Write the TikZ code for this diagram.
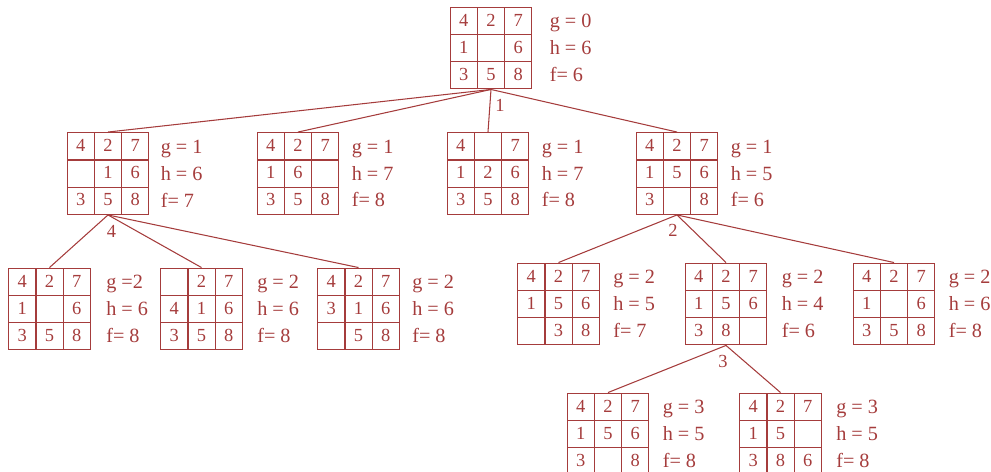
\documentclass[tikz,border=0pt]{standalone}
\usepackage{fontspec}
\setmainfont{Liberation Serif}
\usetikzlibrary{matrix,positioning}
\definecolor{puzred}{RGB}{165,60,60}

\begin{document}
\begin{tikzpicture}[x=0.02cm, y=-0.02cm,
    board/.style={matrix of nodes, nodes in empty cells, inner sep=0pt,
        row sep=-\pgflinewidth, column sep=-\pgflinewidth,
        nodes={draw=puzred, line width=0.5pt, minimum size=0.54cm, inner sep=0pt,
            text height=1.6ex, text depth=0.3ex, anchor=center,
            text=puzred, font=\fontsize{10.5}{12}\selectfont}},
    stats/.style={align=left, inner sep=0pt, text=puzred, font=\fontsize{11.5}{15.3}\selectfont},
    depth/.style={inner sep=0pt, text=puzred, font=\fontsize{10.5}{12}\selectfont},
    link/.style={draw=puzred, line width=0.6pt}
]
\useasboundingbox (0,0) rectangle (991,472);

% root
\matrix[board] (n0) at (491,48) {4 & 2 & 7 \\ 1 & & 6 \\ 3 & 5 & 8 \\};
\node[stats, right=0.34cm of n0] (t0) {g = 0\\h = 6\\f= 6};

% depth 1
\matrix[board] (n1) at (108,173.5) {4 & 2 & 7 \\ & 1 & 6 \\ 3 & 5 & 8 \\};
\matrix[board] (n2) at (298,173.5) {4 & 2 & 7 \\ 1 & 6 & \\ 3 & 5 & 8 \\};
\matrix[board] (n3) at (488,173.5) {4 & & 7 \\ 1 & 2 & 6 \\ 3 & 5 & 8 \\};
\matrix[board] (n4) at (677,173.5) {4 & 2 & 7 \\ 1 & 5 & 6 \\ 3 & & 8 \\};
\node[stats, right=0.22cm of n1] (t1) {g = 1\\h = 6\\f= 7};
\node[stats, right=0.24cm of n2] (t2) {g = 1\\h = 7\\f= 8};
\node[stats, right=0.24cm of n3] (t3) {g = 1\\h = 7\\f= 8};
\node[stats, right=0.24cm of n4] (t4) {g = 1\\h = 5\\f= 6};

% depth 2
\matrix[board] (n11) at (49.5,309) {4 & 2 & 7 \\ 1 & & 6 \\ 3 & 5 & 8 \\};
\matrix[board] (n12) at (201.5,309) { & 2 & 7 \\ 4 & 1 & 6 \\ 3 & 5 & 8 \\};
\matrix[board] (n13) at (358.5,309) {4 & 2 & 7 \\ 3 & 1 & 6 \\ & 5 & 8 \\};
\matrix[board] (n41) at (558.5,304) {4 & 2 & 7 \\ 1 & 5 & 6 \\ & 3 & 8 \\};
\matrix[board] (n42) at (726,304) {4 & 2 & 7 \\ 1 & 5 & 6 \\ 3 & 8 & \\};
\matrix[board] (n43) at (894,304) {4 & 2 & 7 \\ 1 & & 6 \\ 3 & 5 & 8 \\};
\node[stats, right=0.3cm of n11] (t11) {g =2\\h = 6\\f= 8};
\node[stats, right=0.28cm of n12] (t12) {g = 2\\h = 6\\f= 8};
\node[stats, right=0.24cm of n13] (t13) {g = 2\\h = 6\\f= 8};
\node[stats, right=0.26cm of n41] (t41) {g = 2\\h = 5\\f= 7};
\node[stats, right=0.28cm of n42] (t42) {g = 2\\h = 4\\f= 6};
\node[stats, right=0.26cm of n43] (t43) {g = 2\\h = 6\\f= 8};

% depth 3
\matrix[board] (n421) at (608,434) {4 & 2 & 7 \\ 1 & 5 & 6 \\ 3 & & 8 \\};
\matrix[board] (n422) at (780.5,434) {4 & 2 & 7 \\ 1 & 5 & \\ 3 & 8 & 6 \\};
\node[stats, right=0.26cm of n421] (t421) {g = 3\\h = 5\\f= 8};
\node[stats, right=0.28cm of n422] (t422) {g = 3\\h = 5\\f= 8};

% moves
\foreach \c in {n1,n2,n3,n4} \draw[link] (n0.south) -- (\c.north);
\foreach \c in {n11,n12,n13} \draw[link] (n1.south) -- (\c.north);
\foreach \c in {n41,n42,n43} \draw[link] (n4.south) -- (\c.north);
\foreach \c in {n421,n422} \draw[link] (n42.south) -- (\c.north);

% expansion order
\node[depth, below=0.2cm of n0.south, xshift=0.18cm] (o1) {1};
\node[depth, below=0.2cm of n1.south, xshift=0.07cm] (o4) {4};
\node[depth, below=0.18cm of n4.south, xshift=-0.08cm] (o2) {2};
\node[depth, below=0.18cm of n42.south, xshift=-0.06cm] (o3) {3};
\end{tikzpicture}
\end{document}
